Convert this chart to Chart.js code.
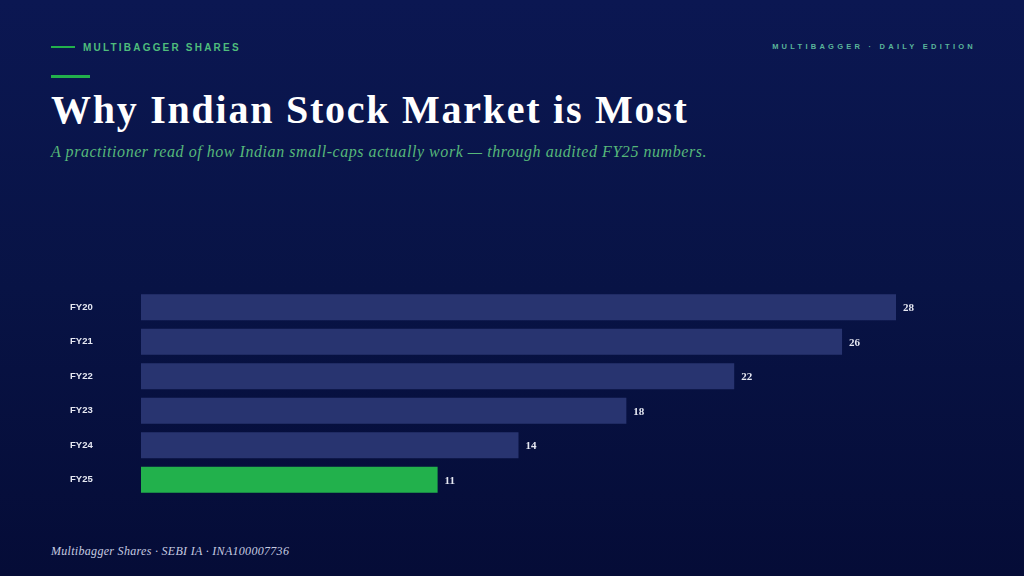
<!DOCTYPE html>
<html>
<head>
<meta charset="utf-8">
<script src="https://cdn.jsdelivr.net/npm/chart.js@4.4.1/dist/chart.umd.min.js"></script>
<style>
  html, body { margin: 0; padding: 0; }
  body {
    width: 1024px; height: 576px; overflow: hidden; position: relative;
    background: linear-gradient(180deg, #0b1752 0%, #081345 50%, #050c37 100%);
  }
  .kicker {
    position: absolute; left: 51px; top: 42px;
    font: bold 10px "Liberation Sans", Arial, sans-serif; letter-spacing: 2.2px;
    color: #4fbd7c;
  }
  .kicker:before {
    content: ""; display: inline-block; width: 24px; height: 2px;
    background: #22b14c; vertical-align: middle; margin-right: 8px; margin-top: -2px;
  }
  .edition {
    position: absolute; right: 48px; top: 42px;
    font: bold 7.5px "Liberation Sans", Arial, sans-serif; letter-spacing: 3.25px;
    color: #5ab59a;
  }
  .rule { position: absolute; left: 51px; top: 75px; width: 39px; height: 3px; background: #22b14c; }
  h1 {
    position: absolute; left: 51px; top: 86px; margin: 0;
    font: bold 40px "Liberation Serif", Georgia, serif; letter-spacing: 1.75px;
    color: #ffffff; white-space: nowrap;
  }
  .sub {
    position: absolute; left: 51px; top: 143px;
    font: italic 16px "Liberation Serif", Georgia, serif; letter-spacing: 0.55px;
    color: #56b87a; white-space: nowrap;
  }
  .foot {
    position: absolute; left: 51px; top: 544px;
    font: italic 12px "Liberation Serif", Georgia, serif; letter-spacing: 0.3px;
    color: #c6cbe0; white-space: nowrap;
  }
  #wrap { position: absolute; left: 0; top: 280px; width: 1024px; height: 230px; }
</style>
</head>
<body>
<div class="kicker">MULTIBAGGER SHARES</div>
<div class="edition">MULTIBAGGER · DAILY EDITION</div>
<div class="rule"></div>
<h1>Why Indian Stock Market is Most</h1>
<div class="sub">A practitioner read of how Indian small-caps actually work — through audited FY25 numbers.</div>
<div id="wrap"><canvas id="chart"></canvas></div>
<div class="foot">Multibagger Shares · SEBI IA · INA100007736</div>

<script>
const years = ['FY20', 'FY21', 'FY22', 'FY23', 'FY24', 'FY25'];
const values = [28, 26, 22, 18, 14, 11];
const barColors = ['#283470', '#283470', '#283470', '#283470', '#283470', '#22b14c'];

// value labels at the end of each bar
const valueLabels = {
    id: 'valueLabels',
    afterDatasetsDraw(chart) {
        const ctx = chart.ctx;
        const meta = chart.getDatasetMeta(0);
        ctx.save();
        ctx.font = 'bold 11px "Liberation Serif", Georgia, serif';
        ctx.fillStyle = '#e6e8f2';
        ctx.textBaseline = 'middle';
        ctx.textAlign = 'left';
        meta.data.forEach((bar, i) => {
            ctx.fillText(values[i], bar.x + 7, bar.y + 1);
        });
        ctx.restore();
    }
};

new Chart(document.getElementById('chart').getContext('2d'), {
    type: 'bar',
    data: {
        labels: years,
        datasets: [{
            data: values,
            backgroundColor: barColors,
            borderWidth: 0,
            categoryPercentage: 1,
            barPercentage: 0.75
        }]
    },
    options: {
        indexAxis: 'y',
        responsive: true,
        maintainAspectRatio: false,
        animation: false,
        layout: { padding: { left: 70, right: 128, top: 10, bottom: 13 } },
        plugins: { legend: { display: false }, tooltip: { enabled: false } },
        scales: {
            x: { display: false, min: 0, max: 28 },
            y: {
                grid: { display: false },
                border: { display: false },
                afterFit(scale) { scale.width = 71; },
                ticks: {
                    crossAlign: 'far',
                    padding: 0,
                    color: '#e6e8f2',
                    font: { family: '"Liberation Sans", Arial, sans-serif', size: 9.5, weight: 'bold' }
                }
            }
        }
    },
    plugins: [valueLabels]
});
</script>
</body>
</html>
